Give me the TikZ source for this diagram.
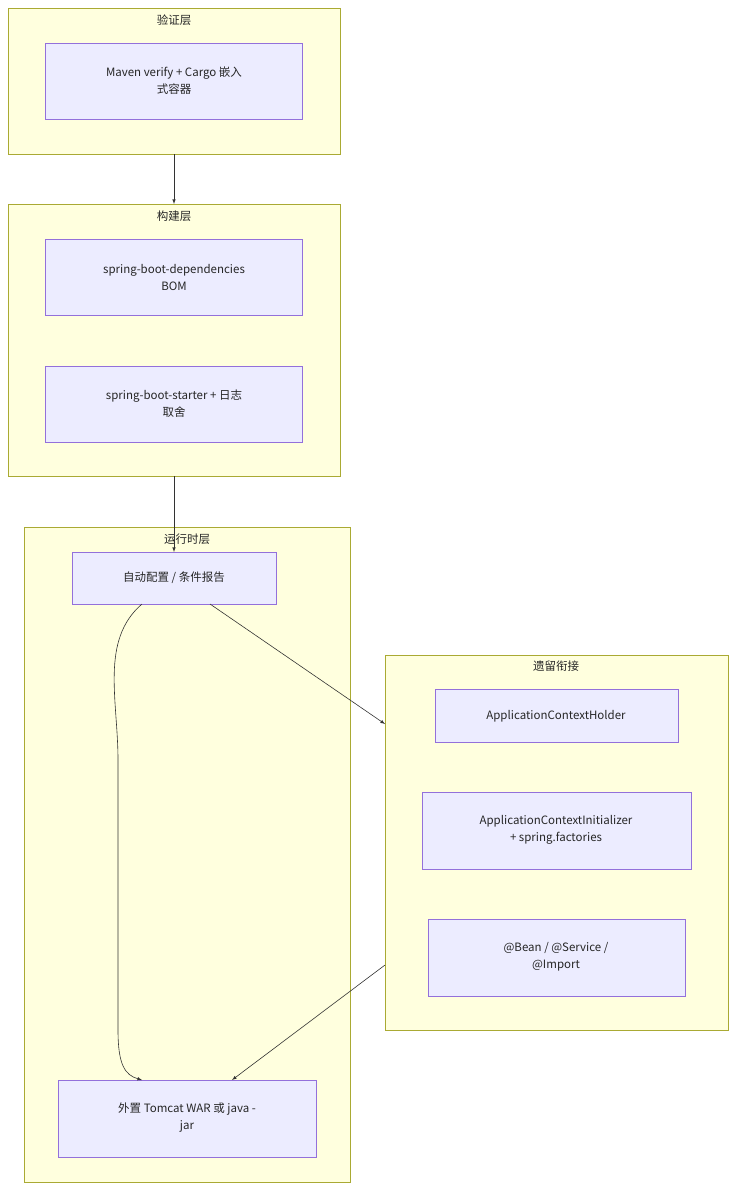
\documentclass[tikz,border=0pt]{standalone}
\usepackage{fontspec}
\setmainfont{Noto Sans CJK SC}
\begin{document}
\begin{tikzpicture}[x=1pt,y=-1pt,
 cl/.style={draw=olive!70!yellow!80!black,fill=yellow!12,line width=0.6pt},
 nd/.style={draw=violet!60,fill=blue!7,line width=0.6pt},
 tx/.style={font=\fontsize{11.5}{17}\selectfont,align=center,text=black!85},
 ar/.style={-latex,line width=0.6pt,draw=black!80}]
\useasboundingbox (0,0) rectangle (744,1202);
\definecolor{clf}{HTML}{FFFFDE}\definecolor{cld}{HTML}{AAAA33}
\definecolor{ndf}{HTML}{ECECFF}\definecolor{ndd}{HTML}{9370DB}
\tikzset{cl/.style={draw=cld,fill=clf,line width=0.6pt},nd/.style={draw=ndd,fill=ndf,line width=0.6pt}}
% clusters
\draw[cl] (8,8) rectangle (340,154); \node[tx] (t1) at (174,20) {验证层};
\draw[cl] (8,204) rectangle (340,476); \node[tx] (t2) at (174,216) {构建层};
\draw[cl] (24,527) rectangle (350,1182); \node[tx] (t3) at (187,539) {运行时层};
\draw[cl] (385,655) rectangle (728,1030); \node[tx] (t4) at (556,666) {遗留衔接};
% nodes
\draw[nd] (45,43) rectangle (302,119); \node[tx] (a) at (174,81) {Maven verify + Cargo 嵌入\\式容器};
\draw[nd] (45,239) rectangle (302,315); \node[tx] (b) at (174,277) {spring-boot-dependencies\\BOM};
\draw[nd] (45,366) rectangle (302,442); \node[tx] (c) at (174,404) {spring-boot-starter + 日志\\取舍};
\draw[nd] (72,552) rectangle (276,604); \node[tx] (d) at (174,578) {自动配置 / 条件报告};
\draw[nd] (58,1080) rectangle (316,1157); \node[tx] (e) at (187,1118) {外置 Tomcat WAR 或 java -\\jar};
\draw[nd] (435,689) rectangle (678,742); \node[tx] (f) at (556,716) {ApplicationContextHolder};
\draw[nd] (422,792) rectangle (691,869); \node[tx] (g) at (556,830) {ApplicationContextInitializer\\+ spring.factories};
\draw[nd] (428,919) rectangle (685,996); \node[tx] (h) at (556,957) {@Bean / @Service /\\@Import};
% edges
\coordinate (p1) at (174,154); \coordinate (p2) at (174,204);
\coordinate (p3) at (174,476); \coordinate (p4) at (174,552);
\coordinate (p5) at (142,604); \coordinate (p6) at (142,1080);
\coordinate (p7) at (210,604); \coordinate (p8) at (385,724);
\coordinate (p9) at (385,965); \coordinate (p10) at (232,1080);
\draw[ar] (p1) -- (p2);
\draw[ar] (p3) -- (p4);
\draw[ar] (p5) .. controls (100,640) and (118,700) .. (118,760) -- (118,1030) .. controls (118,1065) and (125,1075) .. (p6);
\draw[ar] (p7) -- (p8);
\draw[ar] (p9) -- (p10);
\end{tikzpicture}
\end{document}
